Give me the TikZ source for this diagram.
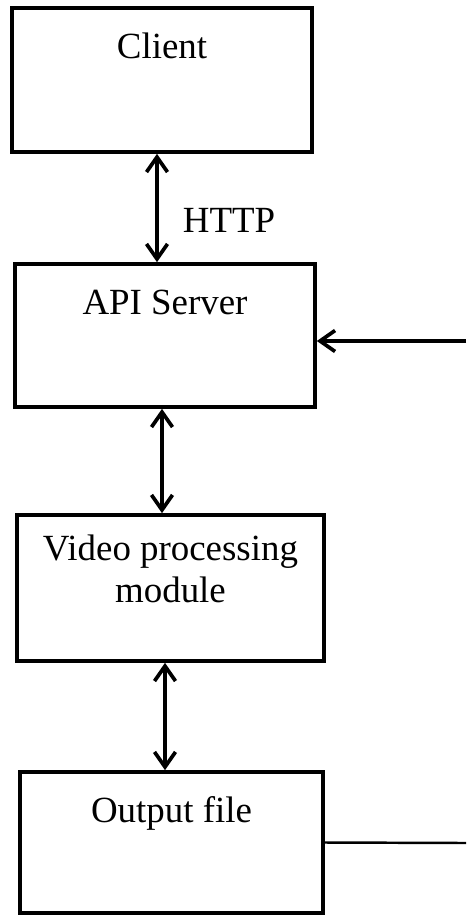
\documentclass[tikz,border=0pt]{standalone}
\usepackage{fontspec}
\setmainfont{Liberation Serif}
\usetikzlibrary{positioning,arrows.meta,calc}

\begin{document}
\begin{tikzpicture}[
  line width=2.1pt,
  box/.style={draw,rectangle,minimum width=6cm,minimum height=2.88cm,inner sep=0pt},
  tag/.style={inner sep=0pt,align=center,font=\fontsize{21}{24}\selectfont},
  link/.style={{Straight Barb[length=0.3cm,width=0.42cm]}-{Straight Barb[length=0.3cm,width=0.42cm]}},
  feed/.style={-{Straight Barb[length=0.3cm,width=0.42cm]}}
]
\useasboundingbox (0,0) rectangle (9.32,-18.3);

% 四つの箱
\node[box] (client) at (3.24,-1.60) {};
\node[box,minimum height=2.86cm] (api) at (3.30,-6.71) {};
\node[box,minimum width=6.14cm,minimum height=2.92cm] (video) at (3.41,-11.76) {};
\node[box,minimum width=6.06cm,minimum height=2.82cm] (output) at (3.43,-16.85) {};

% 箱の文字
\node[tag,below=0.5cm of client.north] (clientT) {Client};
\node[tag,below=0.52cm of api.north] (apiT) {API Server};
\node[tag,below=0.4cm of video.north] (videoT) {Video processing\\module};
\node[tag,below=0.5cm of output.north] (outputT) {Output file};

% 矢印
\draw[link] ([xshift=-0.1cm]client.south) -- ([xshift=-0.16cm]api.north);
\node[tag] (http) at (4.58,-4.40) {HTTP};
\draw[link] ([xshift=-0.06cm]api.south) -- ([xshift=-0.17cm]video.north);
\draw[link] ([xshift=-0.11cm]video.south) -- ([xshift=-0.13cm]output.north);

% 右側の線
\coordinate (inA) at (9.32,-6.82);
\draw[feed] (inA) -- (inA -| api.east);
\coordinate (outA) at (9.32,-16.86);
\draw[line width=1.4pt] (output.east) -- (outA);

\end{tikzpicture}
\end{document}
